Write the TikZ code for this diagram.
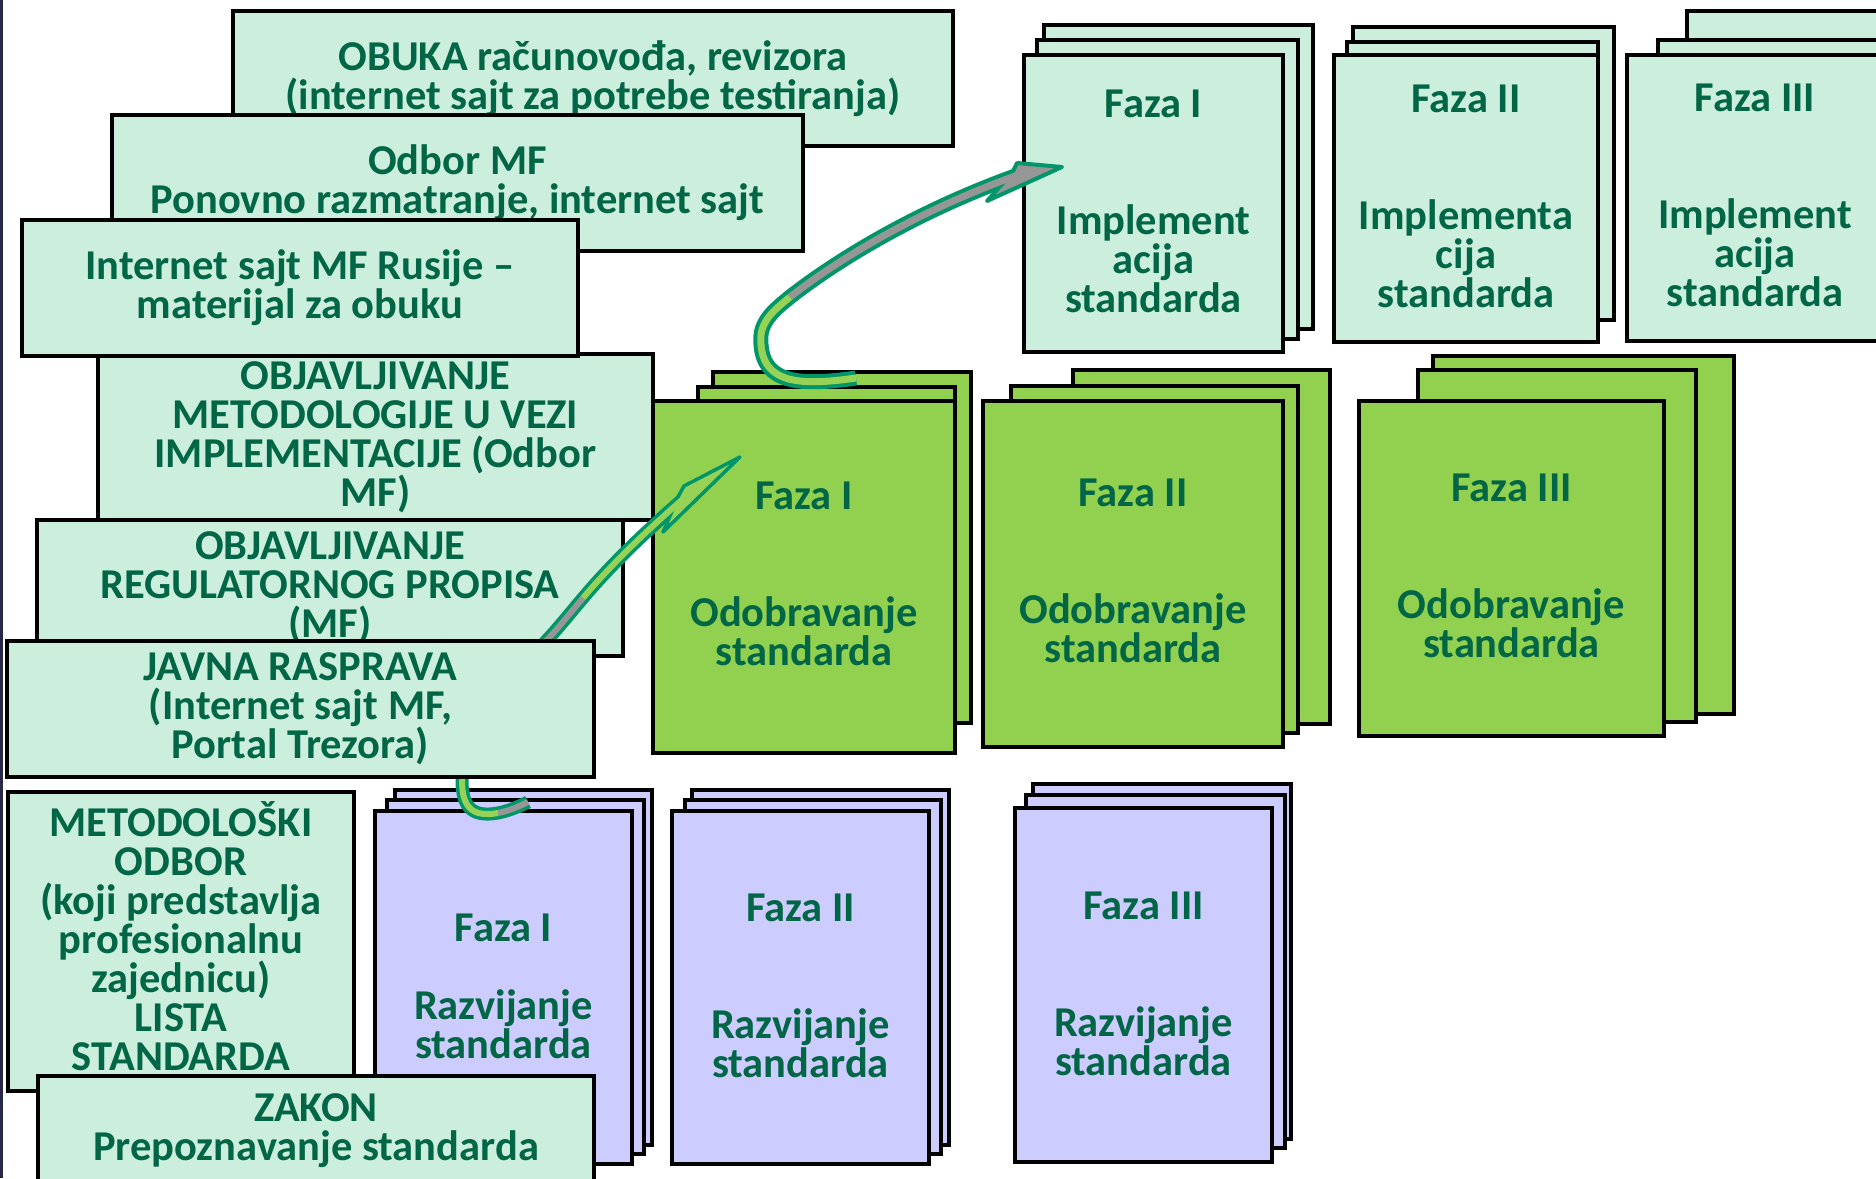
\documentclass[tikz,border=0pt]{standalone}
\usepackage{fontspec}
\setmainfont{Carlito}
\definecolor{lg}{RGB}{204,238,221}
\definecolor{gr}{RGB}{146,208,80}
\definecolor{lv}{RGB}{204,204,255}
\definecolor{tg}{RGB}{0,102,70}
\definecolor{ag}{RGB}{0,150,105}
\definecolor{agray}{RGB}{150,150,150}
\definecolor{alg}{RGB}{150,210,85}
\definecolor{edgecol}{RGB}{40,40,70}
\newcommand\pg[7]{\node[#1, minimum width={#5pt-#3pt}, minimum height={#6pt-#4pt}] (#2) at ({(#3+#5)/2},{(#4+#6)/2}) {#7};}
\tikzset{
  txt/.style={align=center, text=tg, inner sep=0pt, font={\bfseries\fontsize{42.5}{39}\selectfont}},
  box/.style={txt, draw=black, line width=3.5pt, outer sep=0pt},
  lgbox/.style={box, fill=lg},
  grbox/.style={box, fill=gr},
  lvbox/.style={box, fill=lv},
  raise/.style={text depth=#1},
  arrout/.style={draw=ag, line width=#1},
  arrin/.style={line width=#1},
}
\begin{document}
\begin{tikzpicture}[x=1pt,y=-1pt]
\useasboundingbox (0,0) rectangle (1876,1178);
\fill[white] (0,0) rectangle (1876,1178);
\clip (0,0) rectangle (1876,1178);
\fill[edgecol] (0,0) rectangle (2.5,1178);

% left boxes (lower layers)
\pg{lgbox}{obuka}{233}{11}{953}{146}{OBUKA računovođa, revizora\\(internet sajt za potrebe testiranja)}
\pg{lgbox}{odbor}{112}{115}{803}{251}{Odbor MF\\Ponovno razmatranje, internet sajt}
\pg{lgbox}{metod}{98}{354}{653}{520}{OBJAVLJIVANJE\\METODOLOGIJE U VEZI\\IMPLEMENTACIJE (Odbor\\MF)}
\pg{lgbox}{inet}{22}{220}{578}{356}{Internet sajt MF Rusije –\\materijal za obuku}
\pg{lgbox}{reg}{37}{520}{623}{656}{OBJAVLJIVANJE\\REGULATORNOG PROPISA\\(MF)}

% implementation stacks
\pg{lgbox}{imp1b}{1044}{25}{1313}{329}{}
\pg{lgbox}{imp1m}{1037}{40}{1298}{339}{}
\pg{lgbox,raise=5pt}{imp1f}{1024}{55}{1283}{352}{Faza I\\[78pt]Implement\\acija\\standarda}
\pg{lgbox}{imp2b}{1353}{27}{1614}{320}{}
\pg{lgbox}{imp2m}{1347}{42}{1598}{335}{}
\pg{lgbox,raise=5pt}{imp2f}{1334}{55}{1598}{342}{Faza II\\[78pt]Implementa\\cija\\standarda}
\pg{lgbox}{imp3b}{1687}{11}{1910}{300}{}
\pg{lgbox}{imp3m}{1658}{40}{1895}{320}{}
\pg{lgbox,raise=5pt}{imp3f}{1627}{55}{1883}{341}{Faza III\\[78pt]Implement\\acija\\standarda}

% approval stacks
\pg{grbox}{odo1b}{713}{372}{971}{723}{}
\pg{grbox}{odo1m}{698}{387}{955}{738}{}
\pg{grbox,raise=6pt}{odo1f}{653}{401}{955}{753}{Faza I\\[78pt]Odobravanje\\standarda}
\pg{grbox}{odo2b}{1073}{370}{1330}{724}{}
\pg{grbox}{odo2m}{1011}{386}{1298}{733}{}
\pg{grbox,raise=6pt}{odo2f}{983}{401}{1283}{747}{Faza II\\[78pt]Odobravanje\\standarda}
\pg{grbox}{odo3b}{1433}{356}{1734}{714}{}
\pg{grbox}{odo3m}{1418}{370}{1696}{722}{}
\pg{grbox,raise=6pt}{odo3f}{1359}{401}{1664}{736}{Faza III\\[78pt]Odobravanje\\standarda}

% development stacks
\pg{lvbox}{raz1b}{395}{790}{652}{1145}{}
\pg{lvbox}{raz1m}{387}{800}{644}{1154}{}
\pg{lvbox,raise=2pt}{raz1f}{375}{811}{632}{1164}{Faza I\\[39pt]Razvijanje\\standarda}
\pg{lvbox}{raz2b}{692}{790}{949}{1145}{}
\pg{lvbox}{raz2m}{685}{800}{941}{1154}{}
\pg{lvbox,raise=3pt}{raz2f}{672}{811}{929}{1164}{Faza II\\[78pt]Razvijanje\\standarda}
\pg{lvbox}{raz3b}{1033}{784}{1291}{1139}{}
\pg{lvbox}{raz3m}{1026}{795}{1285}{1148}{}
\pg{lvbox,raise=3pt}{raz3f}{1015}{808}{1272}{1162}{Faza III\\[78pt]Razvijanje\\standarda}

% arrow 1 : development -> approval
\coordinate (a1e) at (528,802);
\coordinate (a1p) at (498,813);
\coordinate (a1q) at (462,780);
\coordinate (a1r) at (547,640);
\coordinate (a1s) at (583,598);
\coordinate (a1h) at (684,498);
\coordinate (a1T) at (740,457);
\coordinate (a1UB) at (684,486);
\coordinate (a1U) at (679,495);
\coordinate (a1L) at (667,523);
\coordinate (a1LB) at (663,532);
\draw[arrout=13pt] (a1e) .. controls (518,807) and (508,811) .. (a1p)
  .. controls (470,818) and (462,805) .. (a1q)
  .. controls (462,740) and (515,675) .. (a1r)
  .. controls (560,626) and (571,612) .. (a1s)
  .. controls (615,560) and (650,528) .. (a1h);
\filldraw[fill=alg, draw=ag, line width=3.5pt, line join=round] (a1U) -- (a1UB) -- (a1T) -- (a1LB) -- (a1L) -- cycle;
\draw[arrin=6pt, agray] (a1e) .. controls (518,807) and (508,811) .. (a1p);
\draw[arrin=6pt, alg] (a1p) .. controls (470,818) and (462,805) .. (a1q)
  .. controls (462,740) and (515,675) .. (a1r);
\draw[arrin=6pt, agray] (a1r) .. controls (560,626) and (571,612) .. (a1s);
\draw[arrin=6pt, alg] (a1s) .. controls (615,560) and (650,528) .. (a1h);

% arrow 2 : approval -> implementation
\coordinate (a2e) at (856,378);
\coordinate (a2p) at (761,335);
\coordinate (a2q) at (790,297);
\coordinate (a2h) at (1018,175);
\coordinate (a2T) at (1062,167);
\coordinate (a2UB) at (1017,163);
\coordinate (a2U) at (1012,173);
\coordinate (a2L) at (996,191);
\coordinate (a2LB) at (987,201);
\draw[arrout=15pt] (a2e) .. controls (800,386) and (758,385) .. (a2p)
  .. controls (763,318) and (778,307) .. (a2q)
  .. controls (840,258) and (920,210) .. (a2h);
\filldraw[fill=agray, draw=ag, line width=4pt, line join=round] (a2U) -- (a2UB) -- (a2T) -- (a2LB) -- (a2L) -- cycle;
\draw[arrin=7pt, alg] (a2e) .. controls (800,386) and (758,385) .. (a2p)
  .. controls (763,318) and (778,307) .. (a2q);
\draw[arrin=7pt, agray] (a2q) .. controls (840,258) and (920,210) .. (a2h);

% left boxes (upper layers)
\pg{lgbox}{javna}{7}{641}{594}{777}{JAVNA RASPRAVA\\(Internet sajt MF,\\Portal Trezora)}
\pg{lgbox,raise=10pt}{metodbor}{8}{792}{354}{1091}{METODOLOŠKI\\ODBOR\\(koji predstavlja\\profesionalnu\\zajednicu)\\LISTA\\STANDARDA}
\pg{lgbox}{zakon}{38}{1076}{594}{1200}{}
\node[txt] (zakontxt) at (316,1131) {ZAKON\\Prepoznavanje standarda};
\end{tikzpicture}
\end{document}
